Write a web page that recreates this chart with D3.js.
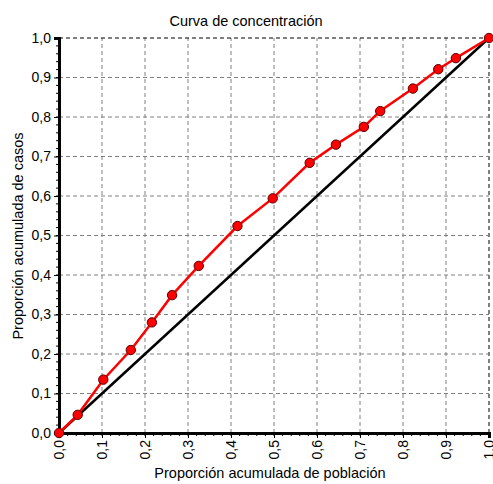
<!DOCTYPE html>
<html>
<head>
<meta charset="utf-8">
<script src="https://cdn.jsdelivr.net/npm/d3@7"></script>
<style>
  body { margin: 0; background: #fff; }
  text { font-family: "Liberation Sans", Arial, sans-serif; fill: #000; }
</style>
</head>
<body>
<div id="chart"></div>
<script>
// Data
const popShare = [0, 0.0435, 0.103, 0.167, 0.216, 0.263, 0.325, 0.415, 0.497, 0.583, 0.644, 0.709, 0.747, 0.823, 0.882, 0.923, 1.0];
const caseShare = [0, 0.046, 0.135, 0.210, 0.280, 0.349, 0.423, 0.524, 0.594, 0.684, 0.730, 0.775, 0.815, 0.872, 0.921, 0.949, 1.0];
const equality = [0, 1];
const tickValues = [0, 0.1, 0.2, 0.3, 0.4, 0.5, 0.6, 0.7, 0.8, 0.9, 1.0];

const width = 493;
const height = 484;
const marginLeft = 59;
const marginRight = 4;
const marginTop = 38;
const marginBottom = 51;

const svg = d3.select("#chart")
  .append("svg")
  .attr("width", width)
  .attr("height", height);

const xScale = d3.scaleLinear()
  .domain([0, 1])
  .range([marginLeft, width - marginRight]);

const yScale = d3.scaleLinear()
  .domain([0, 1])
  .range([height - marginBottom, marginTop]);

const fmt = d => d3.format(".1f")(d).replace(".", ",");

// Grid
const grid = svg.append("g");
grid.selectAll("line.gx")
  .data(tickValues.slice(1))
  .enter().append("line")
  .attr("x1", d => xScale(d)).attr("x2", d => xScale(d))
  .attr("y1", yScale(0)).attr("y2", yScale(1))
  .attr("stroke", d => d === 1 ? "#000" : "#808080")
  .attr("stroke-dasharray", "4,3")
  .attr("stroke-width", 1);
grid.selectAll("line.gy")
  .data(tickValues.slice(1))
  .enter().append("line")
  .attr("y1", d => yScale(d)).attr("y2", d => yScale(d))
  .attr("x1", xScale(0)).attr("x2", xScale(1))
  .attr("stroke", d => d === 1 ? "#000" : "#808080")
  .attr("stroke-dasharray", "4,3")
  .attr("stroke-width", 1);

// Minor ticks
const minor = d3.range(0, 1.0001, 0.02);
svg.append("g").selectAll("line")
  .data(minor)
  .enter().append("line")
  .attr("x1", xScale(0) - 3).attr("x2", xScale(0))
  .attr("y1", d => yScale(d)).attr("y2", d => yScale(d))
  .attr("stroke", "#000");
svg.append("g").selectAll("line")
  .data(minor)
  .enter().append("line")
  .attr("x1", d => xScale(d)).attr("x2", d => xScale(d))
  .attr("y1", yScale(0)).attr("y2", yScale(0) + 3)
  .attr("stroke", "#000");

// Axes
const yAxis = d3.axisLeft(yScale).tickValues(tickValues).tickFormat(fmt).tickSize(5).tickPadding(3);
const yG = svg.append("g")
  .attr("transform", `translate(${marginLeft},0)`)
  .call(yAxis);
yG.select(".domain").attr("stroke-width", 3);
yG.selectAll("text").style("font-size", "14px");

const xAxis = d3.axisBottom(xScale).tickValues(tickValues).tickFormat(fmt).tickSize(5).tickPadding(3);
const xG = svg.append("g")
  .attr("transform", `translate(0,${height - marginBottom})`)
  .call(xAxis);
xG.select(".domain").attr("stroke-width", 3);
xG.selectAll("text")
  .style("font-size", "14px")
  .attr("transform", "rotate(-90)")
  .attr("text-anchor", "end")
  .attr("x", -7)
  .attr("y", 0)
  .attr("dy", "0.35em");

// Equality line
const line = d3.line().x(d => xScale(d[0])).y(d => yScale(d[1]));
svg.append("path")
  .datum(equality.map(d => [d, d]))
  .attr("d", line)
  .attr("fill", "none")
  .attr("stroke", "#000")
  .attr("stroke-width", 2.5);

// Concentration curve
const curve = popShare.map((d, i) => [d, caseShare[i]]);
svg.append("path")
  .datum(curve)
  .attr("d", line)
  .attr("fill", "none")
  .attr("stroke", "#ff0000")
  .attr("stroke-width", 2.5);

svg.selectAll("circle.pt")
  .data(curve)
  .enter().append("circle")
  .attr("class", "pt")
  .attr("cx", d => xScale(d[0]))
  .attr("cy", d => yScale(d[1]))
  .attr("r", 4.7)
  .attr("fill", "#ff0000")
  .attr("stroke", "#5a0000")
  .attr("stroke-width", 1);

// Titles
svg.append("text")
  .attr("x", 246).attr("y", 26)
  .attr("text-anchor", "middle")
  .style("font-size", "14.5px")
  .text("Curva de concentración");

svg.append("text")
  .attr("x", 270).attr("y", 478)
  .attr("text-anchor", "middle")
  .style("font-size", "14.5px")
  .text("Proporción acumulada de población");

svg.append("text")
  .attr("transform", `translate(23,${236}) rotate(-90)`)
  .attr("text-anchor", "middle")
  .style("font-size", "14.5px")
  .text("Proporción acumulada de casos");
</script>
</body>
</html>
